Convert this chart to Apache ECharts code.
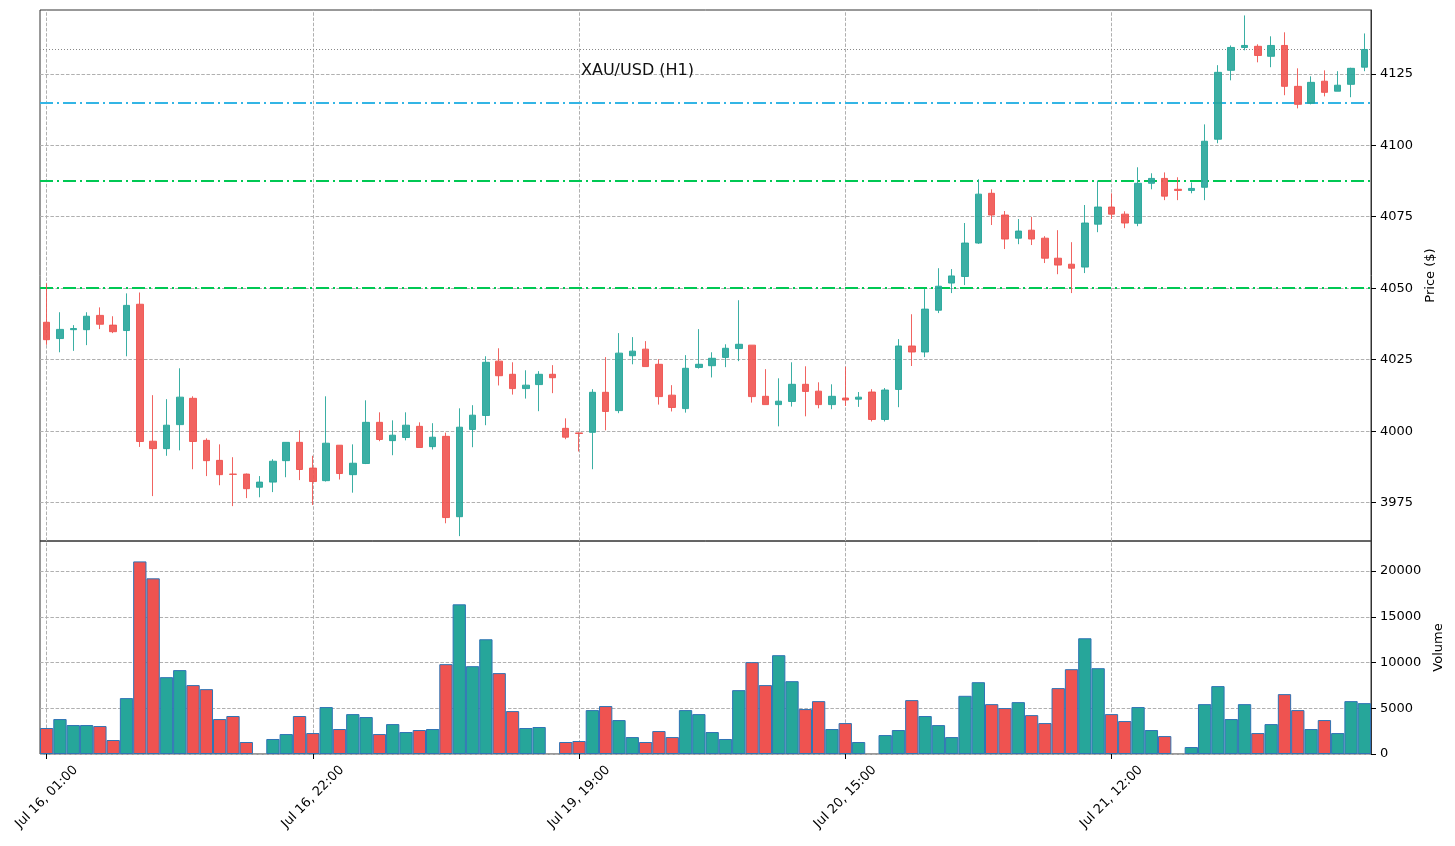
<!DOCTYPE html>
<html>
<head>
<meta charset="utf-8">
<title>XAU/USD (H1)</title>
<script src="https://cdn.jsdelivr.net/npm/echarts@6/dist/echarts.min.js"></script>
<style>
  html, body { margin: 0; padding: 0; background: #fff; }
  #chart { width: 1455px; height: 846px; }
</style>
</head>
<body>
<div id="chart"></div>
<script>
// candle data, one entry per hourly bar
var opens = [4038.1, 4032.4, 4035.5, 4035.5, 4040.5, 4037.1, 4035.2, 4044.4, 3996.5, 3993.9,
  4002.3, 4011.5, 3996.8, 3989.8, 3985.0, 3985.0, 3980.4, 3982.2, 3989.7, 3996.1,
  3987.1, 3982.7, 3995.1, 3984.8, 3988.7, 4003.1, 3996.7, 3997.8, 4001.7, 3994.6,
  3998.2, 3970.1, 4000.6, 4005.5, 4024.5, 4019.9, 4014.9, 4016.3, 4019.9, 4001.0,
  3999.4, 3999.6, 4013.6, 4007.2, 4026.4, 4028.7, 4023.4, 4012.6, 4007.9, 4022.3,
  4022.9, 4025.8, 4028.9, 4030.1, 4012.2, 4009.3, 4010.4, 4016.4, 4014.0, 4009.3,
  4011.6, 4011.2, 4013.7, 4004.1, 4014.6, 4029.8, 4027.7, 4042.3, 4051.8, 4054.1,
  4065.8, 4083.2, 4075.6, 4067.5, 4070.3, 4067.5, 4060.5, 4058.4, 4057.4, 4072.4,
  4078.4, 4075.9, 4072.7, 4086.7, 4088.4, 4084.6, 4084.2, 4085.3, 4102.1, 4126.2,
  4134.2, 4134.6, 4131.1, 4134.9, 4120.6, 4114.7, 4122.4, 4118.9, 4121.3, 4127.3];
var closes = [4032.0, 4035.6, 4035.9, 4040.2, 4037.4, 4034.8, 4044.0, 3996.4, 3993.9, 4002.1,
  4011.9, 3996.4, 3989.7, 3984.8, 3984.9, 3979.9, 3982.2, 3989.5, 3996.1, 3986.6,
  3982.4, 3995.8, 3985.2, 3988.8, 4003.1, 3997.1, 3998.6, 4002.1, 3994.3, 3997.9,
  3969.8, 4001.4, 4005.6, 4024.1, 4019.4, 4014.9, 4016.1, 4019.9, 4018.7, 3997.9,
  3999.2, 4013.6, 4006.9, 4027.3, 4028.0, 4022.6, 4012.1, 4008.3, 4022.0, 4023.4,
  4025.5, 4029.0, 4030.4, 4012.1, 4009.3, 4010.5, 4016.4, 4013.9, 4009.3, 4012.2,
  4010.9, 4011.9, 4004.1, 4014.4, 4029.8, 4027.7, 4042.7, 4050.7, 4054.3, 4065.8,
  4082.9, 4075.6, 4067.2, 4070.0, 4067.2, 4060.5, 4058.1, 4057.0, 4072.8, 4078.4,
  4075.9, 4072.8, 4086.7, 4088.4, 4082.2, 4084.2, 4084.9, 4101.4, 4125.5, 4134.2,
  4134.9, 4131.4, 4134.9, 4120.6, 4114.3, 4122.0, 4118.5, 4121.0, 4126.9, 4133.5];
var lows = [4030.2, 4027.6, 4028.1, 4030.1, 4035.7, 4034.3, 4026.2, 3994.5, 3977.3, 3991.4,
  3993.3, 3986.7, 3984.3, 3981.1, 3973.8, 3976.6, 3976.9, 3978.7, 3983.9, 3982.9,
  3974.2, 3982.4, 3983.1, 3978.5, 3988.5, 3996.5, 3991.6, 3996.8, 3994.3, 3993.6,
  3967.8, 3963.3, 3994.4, 4002.1, 4016.0, 4012.8, 4011.4, 4007.0, 4013.3, 3997.2,
  3992.9, 3986.7, 4000.3, 4006.3, 4023.4, 4022.6, 4009.3, 4006.9, 4006.5, 4021.9,
  4018.8, 4022.4, 4024.5, 4010.0, 4009.3, 4001.7, 4008.6, 4005.2, 4008.0, 4007.7,
  4008.8, 4008.5, 4003.4, 4003.4, 4008.4, 4022.8, 4025.9, 4041.3, 4048.3, 4051.1,
  4065.5, 4072.1, 4063.7, 4065.4, 4065.1, 4058.8, 4054.9, 4048.3, 4055.3, 4069.6,
  4074.2, 4071.0, 4071.7, 4084.6, 4080.8, 4080.8, 4083.2, 4080.8, 4100.7, 4122.7,
  4133.2, 4129.0, 4127.3, 4117.5, 4112.9, 4114.3, 4117.1, 4118.9, 4116.8, 4125.9];
var highs = [4051.7, 4041.6, 4037.1, 4041.6, 4043.3, 4040.2, 4048.2, 4048.5, 4012.6, 4011.2,
  4022.0, 4012.2, 3997.5, 3995.4, 3990.9, 3985.2, 3984.3, 3990.2, 3996.1, 4000.3,
  3991.4, 4012.2, 3995.1, 3995.4, 4010.8, 4006.6, 4003.8, 4006.6, 4003.1, 4002.8,
  3999.5, 4008.0, 4009.1, 4026.2, 4029.0, 4024.1, 4021.3, 4021.0, 4023.1, 4004.5,
  3999.6, 4014.7, 4025.9, 4034.3, 4032.9, 4031.5, 4025.2, 4016.1, 4026.6, 4035.7,
  4027.6, 4030.4, 4045.8, 4030.1, 4021.7, 4018.5, 4024.1, 4022.7, 4017.1, 4016.4,
  4022.5, 4013.7, 4014.7, 4015.1, 4032.2, 4040.9, 4049.7, 4057.0, 4056.7, 4072.8,
  4088.1, 4084.6, 4077.0, 4074.2, 4074.9, 4068.2, 4070.3, 4066.1, 4079.1, 4087.7,
  4083.2, 4076.9, 4092.3, 4090.2, 4090.5, 4088.8, 4087.0, 4107.3, 4128.0, 4134.9,
  4145.4, 4135.3, 4138.1, 4139.5, 4126.9, 4124.1, 4126.2, 4125.9, 4127.1, 4139.1];
var volumes = [2840, 3820, 3165, 3165, 3055, 1530, 6110, 21050, 19200, 8400,
  9170, 7530, 7090, 3820, 4150, 1310, 0, 1640, 2180, 4150,
  2290, 5130, 2730, 4360, 4040, 2180, 3270, 2400, 2620, 2730,
  9820, 16360, 9600, 12540, 8840, 4690, 2840, 2950, 0, 1310,
  1420, 4800, 5240, 3710, 1850, 1310, 2510, 1850, 4800, 4360,
  2400, 1640, 6980, 10040, 7530, 10800, 7960, 4910, 5780, 2730,
  3380, 1310, 0, 2070, 2620, 5890, 4150, 3160, 1850, 6360,
  7850, 5450, 5020, 5670, 4250, 3380, 7200, 9270, 12650, 9380,
  4360, 3600, 5130, 2620, 1960, 0, 760, 5450, 7420, 3820,
  5450, 2290, 3270, 6545, 4800, 2730, 3710, 2290, 5780, 5560];

// x tick labels (every 20th bar)
var tickLabels = {0: 'Jul 16, 01:00', 20: 'Jul 16, 22:00', 40: 'Jul 19, 19:00', 60: 'Jul 20, 15:00', 80: 'Jul 21, 12:00'};
var tickIdx = [0, 20, 40, 60, 80];
// y ticks
var priceTicks = [3975, 4000, 4025, 4050, 4075, 4100, 4125];
var volumeTicks = [0, 5000, 10000, 15000, 20000];
// horizontal levels
var supportLevels = [4050, 4087.6];
var resistLevels = [4114.8];

var UP = '#26a69a', DOWN = '#ef5350';
var FONT = 'DejaVu Sans';

var cats = opens.map(function (v, i) { return String(i); });
var ohlc = opens.map(function (o, i) { return [o, closes[i], lows[i], highs[i]]; });
var volData = volumes.map(function (v, i) {
  return {
    value: v === 0 ? '-' : v,
    itemStyle: { color: closes[i] >= opens[i] ? UP : DOWN }
  };
});

var gridLine = { color: '#b0b0b0', width: 1, type: [3.5, 1.7] };
var vLines = tickIdx.map(function (i) { return { xAxis: i, lineStyle: gridLine }; });
var priceMarks = vLines.concat(
  supportLevels.map(function (p) { return { yAxis: p, lineStyle: { color: '#00c853', width: 2, type: [13, 4, 2, 4] } }; }),
  resistLevels.map(function (p) { return { yAxis: p, lineStyle: { color: '#33b5e5', width: 2, type: [13, 4, 2, 4] } }; }),
  [{ yAxis: closes[closes.length - 1], lineStyle: { color: '#888', width: 1, type: [1, 2] } }]
);

var myChart = echarts.init(document.getElementById('chart'));
myChart.setOption({
  animation: false,
  textStyle: { fontFamily: FONT },
  title: {
    text: 'XAU/USD (H1)',
    left: 576, top: 58,
    textStyle: { fontSize: 16, fontWeight: 'normal', color: '#111', fontFamily: FONT }
  },
  grid: [
    { left: 40, right: 84, top: 10, height: 531, show: true, borderColor: '#333', borderWidth: 1,
      containLabel: false, outerBoundsMode: 'none' },
    { left: 40, right: 84, top: 541, height: 213, show: true, borderColor: '#333', borderWidth: 1,
      containLabel: false, outerBoundsMode: 'none' }
  ],
  xAxis: [
    {
      gridIndex: 0, type: 'category', data: cats, boundaryGap: true,
      axisLine: { show: false }, axisTick: { show: false }, axisLabel: { show: false }, splitLine: { show: false }
    },
    {
      gridIndex: 1, type: 'category', data: cats, boundaryGap: true,
      axisLine: { show: false },
      axisTick: { show: true, interval: 19, alignWithLabel: true, length: 5, lineStyle: { color: '#000' } },
      axisLabel: {
        interval: 19, rotate: 45, margin: 43, align: 'center', verticalAlign: 'middle',
        fontSize: 13, color: '#000', fontFamily: FONT,
        formatter: function (v, i) { return tickLabels[i] || ''; }
      },
      splitLine: { show: false }
    }
  ],
  yAxis: [
    {
      gridIndex: 0, type: 'value', position: 'right', scale: true,
      min: 3961.6, max: 4147.3, minInterval: 25, maxInterval: 25,
      axisLine: { show: true, lineStyle: { color: '#333' } },
      axisTick: { show: true, length: 5, customValues: priceTicks, lineStyle: { color: '#000' } },
      axisLabel: {
        margin: 9, fontSize: 13, color: '#000', fontFamily: FONT, customValues: priceTicks,
        formatter: function (v) { return v % 25 === 0 ? String(v) : ''; }
      },
      splitLine: { show: true, lineStyle: gridLine },
      name: 'Price ($)', nameLocation: 'middle', nameGap: 52, nameRotate: 90,
      nameTextStyle: { fontSize: 13, color: '#000', fontFamily: FONT }
    },
    {
      gridIndex: 1, type: 'value', position: 'right',
      min: 0, max: 23280, interval: 5000,
      axisLine: { show: true, lineStyle: { color: '#333' } },
      axisTick: { show: true, length: 5, customValues: volumeTicks, lineStyle: { color: '#000' } },
      axisLabel: {
        margin: 9, fontSize: 13, color: '#000', fontFamily: FONT, customValues: volumeTicks,
        formatter: function (v) { return String(v); }
      },
      splitLine: { show: true, lineStyle: gridLine },
      name: 'Volume', nameLocation: 'middle', nameGap: 59, nameRotate: 90,
      nameTextStyle: { fontSize: 13, color: '#000', fontFamily: FONT }
    }
  ],
  series: [
    {
      name: 'XAU/USD', type: 'candlestick', xAxisIndex: 0, yAxisIndex: 0,
      data: ohlc, barWidth: 7,
      itemStyle: {
        color: UP, color0: DOWN, borderColor: UP, borderColor0: DOWN, borderWidth: 1, opacity: 0.9
      },
      markLine: {
        silent: true, symbol: 'none', z: 1, label: { show: false }, animation: false,
        data: priceMarks
      }
    },
    {
      name: 'Volume', type: 'bar', xAxisIndex: 1, yAxisIndex: 1,
      data: volData, barCategoryGap: '0%',
      itemStyle: { borderColor: '#2f74b5', borderWidth: 1 },
      markLine: {
        silent: true, symbol: 'none', z: 1, label: { show: false }, animation: false,
        data: vLines
      }
    }
  ]
});
</script>
</body>
</html>
